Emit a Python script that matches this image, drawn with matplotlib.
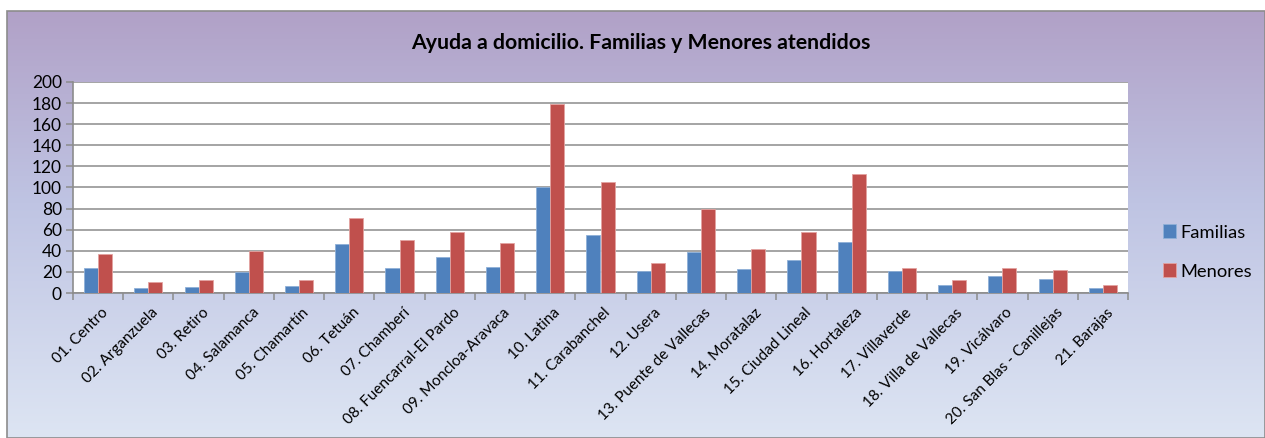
import numpy as np
import matplotlib
matplotlib.use("Agg")
import matplotlib.pyplot as plt
import matplotlib.transforms as mtransforms
from matplotlib.colors import LinearSegmentedColormap
from matplotlib.patches import Rectangle

# Data
distritos = [
    "01. Centro", "02. Arganzuela", "03. Retiro", "04. Salamanca", "05. Chamartín",
    "06. Tetuán", "07. Chamberí", "08. Fuencarral-El Pardo", "09. Moncloa-Aravaca",
    "10. Latina", "11. Carabanchel", "12. Usera", "13. Puente de Vallecas",
    "14. Moratalaz", "15. Ciudad Lineal", "16. Hortaleza", "17. Villaverde",
    "18. Villa de Vallecas", "19. Vicálvaro", "20. San Blas - Canillejas", "21. Barajas",
]
familias = [24, 5, 6, 20, 7, 46, 24, 34, 25, 100, 55, 21, 39, 23, 31, 48, 21, 8, 16, 13, 5]
menores = [37, 10, 12, 40, 12, 71, 50, 58, 47, 179, 105, 28, 80, 42, 58, 113, 24, 12, 24, 22, 8]
y_ticks = list(range(0, 201, 20))

FONT = ["Lato", "DejaVu Sans"]
plt.rcParams["font.family"] = FONT

W, H = 1265, 438
fig = plt.figure(figsize=(W / 100, H / 100), dpi=100)
fig.patch.set_facecolor("white")

# Gradient chart background with a thin grey border
bg = fig.add_axes([0, 0, 1, 1], zorder=0)
bg.set_xlim(0, W)
bg.set_ylim(H, 0)
bg.axis("off")
cmap = LinearSegmentedColormap.from_list(
    "bgfill", [(0.0, "#b1a1c7"), (0.45, "#bfc4e3"), (1.0, "#dde5f3")]
)
grad = np.linspace(0, 1, 256).reshape(-1, 1)
bg.imshow(grad, cmap=cmap, aspect="auto", extent=(7, W, H, 11), zorder=0)
bg.add_patch(Rectangle((7, 11), W - 7, H - 11, fill=False, edgecolor="#8c8c8c", lw=1.2, zorder=1))

bg.text(641, 43, "Ayuda a domicilio. Familias y Menores atendidos", ha="center", va="center",
        fontsize=15.3, fontweight="bold", color="black")

# Plot area
left, right, top, bottom = 73, 1128, 82, 293
ax = fig.add_axes([left / W, (H - bottom) / H, (right - left) / W, (bottom - top) / H], zorder=2)
ax.set_facecolor("white")

x = np.arange(len(distritos))
bw = 0.28
ax.bar(x - bw / 2, familias, width=bw, color="#4f81bd", edgecolor="#8fb0d8", linewidth=0.6,
       label="Familias", zorder=3)
ax.bar(x + bw / 2, menores, width=bw, color="#c0504d", edgecolor="#e3a3a1", linewidth=0.6,
       label="Menores", zorder=3)

ax.set_xlim(-0.5, len(distritos) - 0.5)
ax.set_ylim(0, 200)
ax.set_yticks(y_ticks)
ax.set_yticklabels([str(v) for v in y_ticks], fontsize=12.5)
ax.yaxis.grid(True, color="#8c8c8c", lw=1.1, zorder=1)
ax.set_axisbelow(True)

ax.set_xticks(x)
ax.set_xticklabels(distritos, rotation=45, ha="right", va="top", rotation_mode="anchor",
                   fontsize=11)
ax.tick_params(axis="x", length=0, pad=9)
shift = mtransforms.ScaledTranslation(3 / 100, 0, fig.dpi_scale_trans)
for lbl in ax.get_xticklabels():
    lbl.set_transform(lbl.get_transform() + shift)
ax.set_xticks(np.arange(-0.5, len(distritos), 1.0), minor=True)
ax.tick_params(axis="x", which="minor", length=5, width=1.1, color="#8c8c8c")
ax.tick_params(axis="y", length=5, width=1.1, color="#8c8c8c", pad=3)

for s in ["top", "right"]:
    ax.spines[s].set_visible(False)
for s in ["left", "bottom"]:
    ax.spines[s].set_color("#8c8c8c")
    ax.spines[s].set_linewidth(1.2)

leg = fig.legend(loc="center left", bbox_to_anchor=(1146 / W, (H - 252) / H), frameon=False,
                 fontsize=13.2, handlelength=0.75, handleheight=0.75, handletextpad=0.25,
                 labelspacing=1.25)

fig.savefig("out.png", dpi=100, facecolor=fig.get_facecolor())
